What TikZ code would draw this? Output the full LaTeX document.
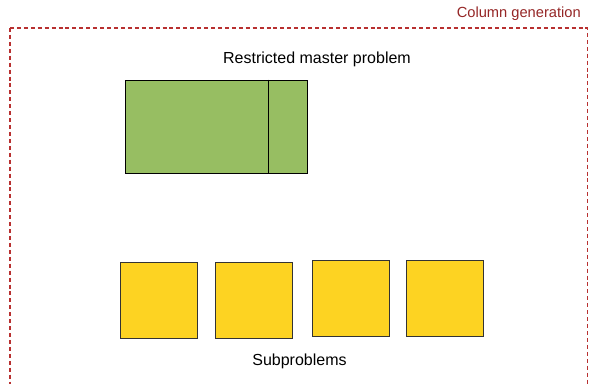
\documentclass[tikz,border=0pt]{standalone}
\usepackage{fontspec}
\setmainfont{Liberation Sans}
\usetikzlibrary{positioning}
\definecolor{rmpgreen}{HTML}{97BE62}
\definecolor{subyellow}{HTML}{FDD322}
\definecolor{cgred}{HTML}{952626}
\definecolor{framered}{HTML}{B83030}

\begin{document}
\begin{tikzpicture}[x=0.75pt, y=-0.75pt,
  master/.style={draw=black, fill=rmpgreen, line width=0.6pt, inner sep=0pt,
    minimum width=182*0.75pt, minimum height=93*0.75pt},
  subbox/.style={draw=black!80, fill=subyellow, line width=0.6pt, inner sep=0pt,
    minimum width=77*0.75pt, minimum height=76*0.75pt},
  boxtitle/.style={font=\fontsize{12}{14}\selectfont, inner sep=0pt}]
  \useasboundingbox (0,0) rectangle (589,384);

  % ---------- outer frame ----------
  \draw[framered, line width=1pt, dash pattern=on 3pt off 2.2pt]
    (10,28) -- (587.5,28) -- (587.5,394);
  \draw[framered, line width=1pt, dash pattern=on 3pt off 2.2pt]
    (10,28) -- (10,394);
  \node[boxtitle, cgred, font=\fontsize{11}{13}\selectfont, anchor=east] (cgtitle) at (581,14) {Column generation};

  % ---------- master problem ----------
  \node[master] (rmp) at (216,126.5) {};
  \coordinate (split) at (268.5,0);
  \draw[line width=0.6pt] (split |- rmp.north) -- (split |- rmp.south);
  \node[boxtitle] (rmptitle) at (317,59) {Restricted master problem};

  % ---------- subproblems ----------
  \foreach \i/\x/\y in {1/158.5/300, 2/253.5/300, 3/350.5/298.5, 4/444.5/298.5}
    \node[subbox] (sub\i) at (\x,\y) {};
  \node[boxtitle] (subtitle) at (299.5,361) {Subproblems};
\end{tikzpicture}
\end{document}
